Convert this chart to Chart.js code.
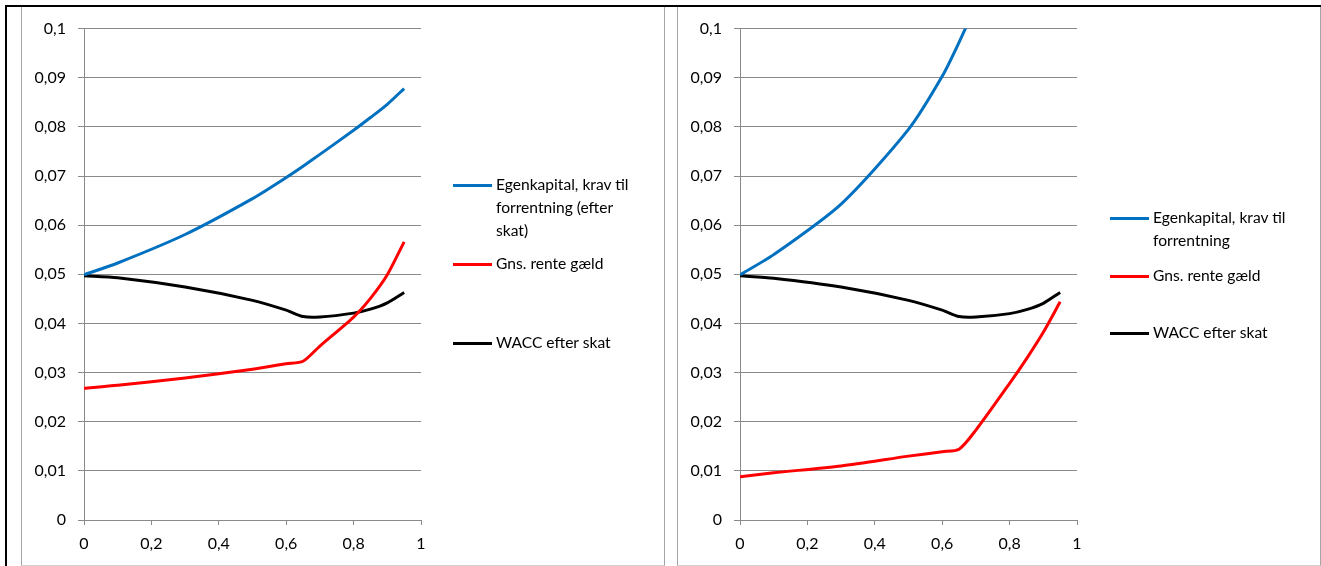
<!DOCTYPE html>
<html>
<head>
<meta charset="utf-8">
<script src="https://cdn.jsdelivr.net/npm/chart.js@4/dist/chart.umd.min.js"></script>
<style>
  body { margin: 0; width: 1321px; height: 566px; background: #fff; overflow: hidden; position: relative; font-family: Lato, "Open Sans", sans-serif; }
  .frame { position: absolute; left: 5px; top: 5px; width: 1316px; height: 561px; border-top: 2px solid #000; border-left: 2px solid #000; }
  .box { position: absolute; top: 7px; height: 558px; border-left: 1px solid #a6a6a6; border-right: 1px solid #a6a6a6; border-bottom: 1px solid #d0d0d0; }
  #box1 { left: 21px; width: 642px; }
  #box2 { left: 677px; width: 642px; }
  canvas { position: absolute; }
  .legend { position: absolute; font-size: 15.6px; line-height: 23px; color: #000; }
  .legend .item { position: absolute; left: 0; white-space: nowrap; }
  .legend .swatch { position: absolute; left: 0; width: 39px; height: 3px; }
  .legend .text { position: absolute; left: 43px; top: -12px; }
</style>
</head>
<body>
<div class="frame"></div>
<div class="box" id="box1"></div>
<div class="box" id="box2"></div>
<canvas id="chartLeft" width="640" height="559" style="left:22px;top:7px;width:640px;height:559px"></canvas>
<canvas id="chartRight" width="640" height="559" style="left:678px;top:7px;width:640px;height:559px"></canvas>
<div class="legend" id="legendLeft" style="left:453px;top:0"></div>
<div class="legend" id="legendRight" style="left:1110px;top:0"></div>
<script>
// gearing (D/V)
const xVals = [0, 0.1, 0.3, 0.5, 0.6, 0.65, 0.7, 0.8, 0.85, 0.9, 0.95];

// left chart
const equityLeft = [0.0499, 0.0523, 0.0581, 0.0654, 0.0697, 0.0720, 0.0744, 0.0793, 0.0819, 0.0846, 0.0878];
const debtLeft   = [0.0268, 0.0274, 0.0289, 0.0307, 0.0318, 0.0323, 0.0354, 0.0413, 0.0451, 0.0499, 0.0566];
const waccLeft   = [0.0497, 0.0493, 0.0474, 0.0447, 0.0427, 0.0414, 0.0413, 0.0421, 0.0429, 0.0442, 0.0463];

// right chart
const equityRight = [0.0499, 0.0540, 0.0643, 0.0795, 0.0903, 0.0972, 0.1050, 0.1230, 0.1350, 0.1500, 0.1720];
const debtRight   = [0.0088, 0.0096, 0.0110, 0.0130, 0.0139, 0.0144, 0.0183, 0.0278, 0.0328, 0.0382, 0.0444];
const waccRight   = [0.0497, 0.0492, 0.0474, 0.0447, 0.0427, 0.0414, 0.0413, 0.0420, 0.0428, 0.0441, 0.0463];

const yTicks = [0, 0.01, 0.02, 0.03, 0.04, 0.05, 0.06, 0.07, 0.08, 0.09, 0.1];
const xTicks = [0, 0.2, 0.4, 0.6, 0.8, 1];

const labelsLeft = ['Egenkapital, krav til forrentning (efter skat)', 'Gns. rente gæld', 'WACC efter skat'];
const labelsRight = ['Egenkapital, krav til forrentning', 'Gns. rente gæld', 'WACC efter skat'];
const colors = ['#0070c0', '#ff0000', '#000000'];

const gridColor = '#8a8a8a';
const fmt = v => String(Number(v.toFixed(2))).replace('.', ',');
const pts = arr => arr.map((y, i) => ({ x: xVals[i], y }));

function makeChart(id, series, labels) {
  return new Chart(document.getElementById(id), {
    type: 'line',
    data: {
      datasets: series.map((s, i) => ({
        label: labels[i],
        data: pts(s),
        borderColor: colors[i],
        borderWidth: 3,
        pointRadius: 0,
        tension: 0.25,
        fill: false
      }))
    },
    options: {
      responsive: false,
      animation: false,
      layout: { padding: { top: 20, right: 241, left: 0, bottom: 0 } },
      plugins: { legend: { display: false }, tooltip: { enabled: false } },
      scales: {
        x: {
          type: 'linear', min: 0, max: 1,
          afterBuildTicks: s => { s.ticks = xTicks.map(v => ({ value: v })); },
          afterFit: s => { s.height = 46; },
          grid: { drawOnChartArea: false, drawTicks: true, tickLength: 5, color: gridColor },
          border: { color: gridColor, width: 1 },
          ticks: { color: '#000', font: { family: 'Lato', size: 16 }, padding: 9, maxRotation: 0, callback: v => fmt(v) }
        },
        y: {
          min: 0, max: 0.1,
          afterBuildTicks: s => { s.ticks = yTicks.map(v => ({ value: v })); },
          afterFit: s => { s.width = 62; },
          grid: { color: gridColor, tickLength: 6 },
          border: { color: gridColor, width: 1 },
          ticks: { color: '#000', font: { family: 'Lato', size: 16 }, padding: 12, callback: v => fmt(v) }
        }
      }
    }
  });
}

makeChart('chartLeft', [equityLeft, debtLeft, waccLeft], labelsLeft);
makeChart('chartRight', [equityRight, debtRight, waccRight], labelsRight);

// legends: text lines and vertical positions of each entry
function buildLegend(id, entries) {
  const el = document.getElementById(id);
  entries.forEach((e, i) => {
    const item = document.createElement('div');
    item.className = 'item';
    item.style.top = e.top + 'px';
    item.innerHTML = '<span class="swatch" style="background:' + colors[i] + ';top:-1px"></span>' +
      '<span class="text">' + e.lines.join('<br>') + '</span>';
    el.appendChild(item);
  });
}
buildLegend('legendLeft', [
  { top: 185, lines: ['Egenkapital, krav til', 'forrentning (efter', 'skat)'] },
  { top: 264, lines: ['Gns. rente gæld'] },
  { top: 343, lines: ['WACC efter skat'] }
]);
buildLegend('legendRight', [
  { top: 218, lines: ['Egenkapital, krav til', 'forrentning'] },
  { top: 276, lines: ['Gns. rente gæld'] },
  { top: 333, lines: ['WACC efter skat'] }
]);
</script>
</body>
</html>
